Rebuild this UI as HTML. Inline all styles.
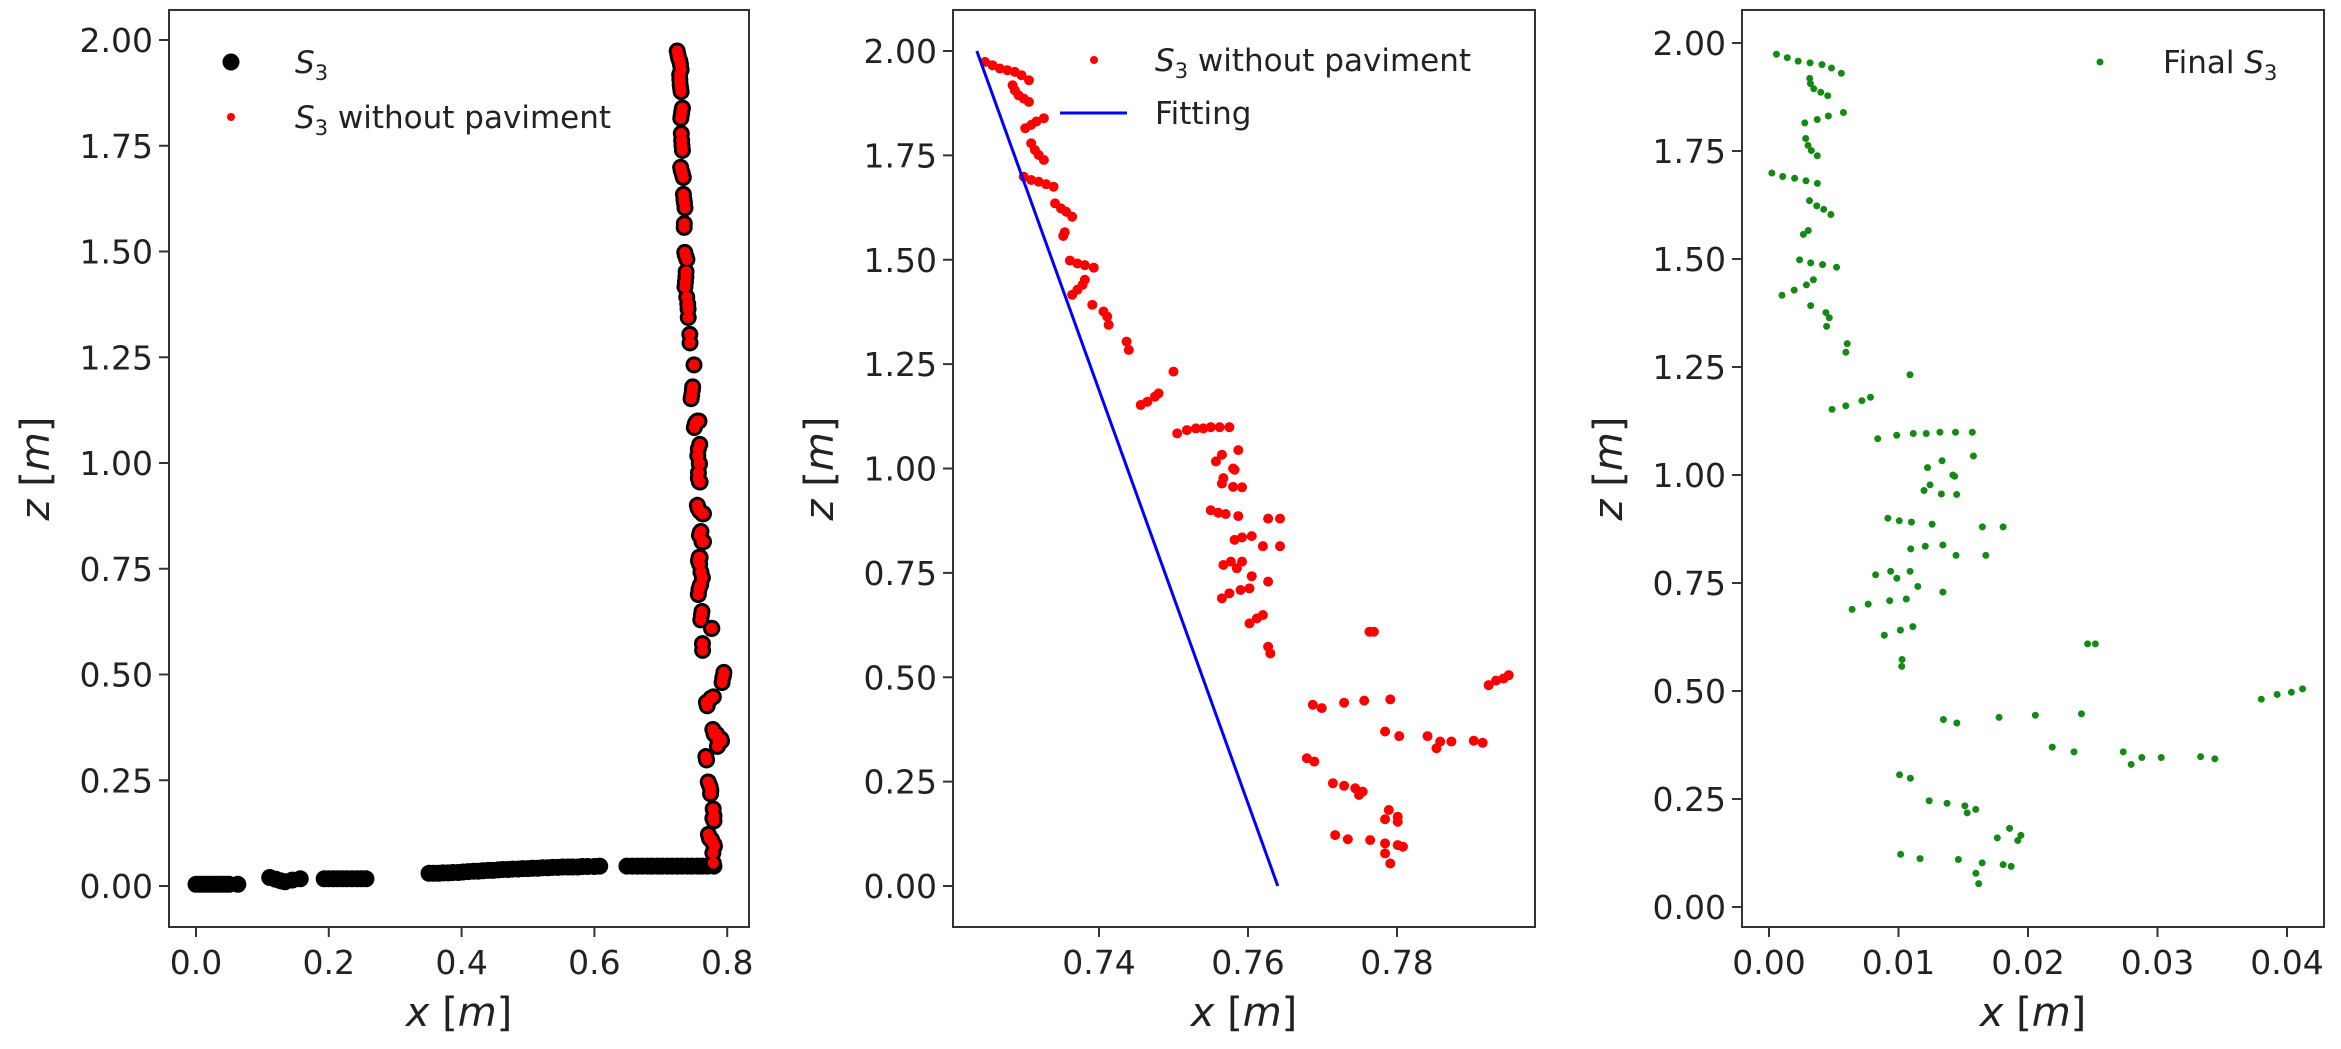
<!DOCTYPE html>
<html><head><meta charset="utf-8"><style>
body{margin:0;background:#fff}
svg{display:block;font-family:"DejaVu Sans","Liberation Sans",sans-serif}
</style></head><body>
<svg id="fig" width="2341" height="1049" viewBox="0 0 2341 1049" xmlns="http://www.w3.org/2000/svg">
<rect width="2341" height="1049" fill="#fff"/>
<g id="p1"></g>
<g id="p2"></g>
<g id="p3"></g>
</svg>
<script>
// pavement (black only) points: x, z
const paveX=[0.0,0.005,0.01,0.015,0.02,0.025,0.03,0.035,0.04,0.045,0.05,0.063,0.111,0.12,0.128,0.134,0.145,0.157,0.193,0.2,0.207,0.214,0.221,0.228,0.235,0.242,0.249,0.256,0.351,0.358,0.365,0.372,0.38,0.387,0.395,0.402,0.41,0.418,0.425,0.432,0.44,0.447,0.455,0.462,0.47,0.477,0.485,0.492,0.5,0.507,0.515,0.522,0.53,0.537,0.545,0.552,0.56,0.567,0.575,0.582,0.59,0.6,0.608,0.649,0.657,0.665,0.672,0.68,0.687,0.695,0.702,0.71,0.717,0.725,0.732,0.74,0.747,0.755,0.762,0.77,0.78];
const paveZ=[0.004,0.004,0.004,0.004,0.004,0.004,0.004,0.004,0.004,0.004,0.004,0.004,0.02,0.016,0.012,0.01,0.014,0.017,0.017,0.017,0.017,0.017,0.017,0.017,0.017,0.017,0.017,0.017,0.03,0.03,0.03,0.031,0.031,0.032,0.032,0.033,0.034,0.035,0.035,0.036,0.037,0.037,0.038,0.039,0.039,0.04,0.04,0.041,0.041,0.042,0.042,0.043,0.043,0.044,0.044,0.045,0.045,0.045,0.045,0.046,0.046,0.046,0.047,0.047,0.047,0.047,0.047,0.047,0.047,0.047,0.047,0.047,0.047,0.047,0.047,0.047,0.047,0.047,0.047,0.047,0.047];
// S3 without pavement points
const redX=[0.7247,0.7257,0.7267,0.7277,0.7287,0.7296,0.7306,0.7284,0.7287,0.7292,0.7299,0.7306,0.7301,0.7309,0.7316,0.7326,0.7309,0.7314,0.7319,0.7326,0.7299,0.7309,0.7319,0.7329,0.7339,0.7341,0.7349,0.7356,0.7364,0.7352,0.7354,0.7361,0.7371,0.7381,0.7393,0.7364,0.7371,0.7378,0.7381,0.7391,0.7406,0.7411,0.7413,0.7437,0.7440,0.7500,0.7456,0.7465,0.7475,0.7480,0.7505,0.7518,0.7530,0.7540,0.7550,0.7562,0.7575,0.7557,0.7565,0.7587,0.7582,0.7567,0.7580,0.7565,0.7580,0.7592,0.7550,0.7560,0.7570,0.7587,0.7627,0.7643,0.7582,0.7592,0.7605,0.7620,0.7643,0.7567,0.7577,0.7585,0.7592,0.7605,0.7627,0.7565,0.7575,0.7590,0.7602,0.7602,0.7612,0.7620,0.7627,0.7630,0.7763,0.7769,0.7923,0.7933,0.7943,0.7950,0.7687,0.7699,0.7729,0.7756,0.7791,0.7784,0.7803,0.7841,0.7853,0.7858,0.7873,0.7903,0.7915,0.7679,0.7689,0.7714,0.7729,0.7744,0.7754,0.7749,0.7789,0.7801,0.7784,0.7801,0.7717,0.7734,0.7764,0.7784,0.7801,0.7808,0.7784,0.7791];
const redZ=[1.974,1.966,1.958,1.954,1.950,1.942,1.930,1.918,1.906,1.894,1.886,1.878,1.815,1.823,1.831,1.839,1.779,1.763,1.751,1.739,1.699,1.691,1.687,1.681,1.675,1.635,1.623,1.615,1.603,1.557,1.566,1.498,1.491,1.487,1.481,1.416,1.428,1.440,1.452,1.392,1.376,1.364,1.344,1.304,1.284,1.232,1.152,1.160,1.172,1.180,1.084,1.092,1.096,1.096,1.099,1.099,1.099,1.017,1.033,1.044,0.997,0.977,1.000,0.964,0.956,0.955,0.900,0.894,0.891,0.886,0.880,0.880,0.829,0.835,0.838,0.814,0.814,0.769,0.777,0.761,0.777,0.742,0.729,0.689,0.701,0.709,0.713,0.629,0.641,0.649,0.573,0.557,0.609,0.609,0.481,0.492,0.497,0.505,0.434,0.426,0.439,0.444,0.447,0.370,0.359,0.359,0.330,0.346,0.346,0.348,0.343,0.306,0.298,0.246,0.240,0.234,0.226,0.218,0.182,0.166,0.160,0.154,0.122,0.112,0.110,0.102,0.098,0.094,0.078,0.054];
// fitting line endpoints (z, x)
const fitZ=[2.0,0.0];
const fitX=[0.7236,0.764];
const yTicks=[0,0.25,0.5,0.75,1.0,1.25,1.5,1.75,2.0];
const yTickLabels=["0.00","0.25","0.50","0.75","1.00","1.25","1.50","1.75","2.00"];
const x1Ticks=[0,0.2,0.4,0.6,0.8];
const x1Labels=["0.0","0.2","0.4","0.6","0.8"];
const x2Ticks=[0.74,0.76,0.78];
const x2Labels=["0.74","0.76","0.78"];
const x3Ticks=[0,0.01,0.02,0.03,0.04];
const x3Labels=["0.00","0.01","0.02","0.03","0.04"];

const NS="http://www.w3.org/2000/svg";
function mk(parent,tag,attrs,text){const e=document.createElementNS(NS,tag);for(const k in attrs)e.setAttribute(k,attrs[k]);if(text!==undefined)e.textContent=text;parent.appendChild(e);return e;}
function fitAt(z){return fitX[1]+(fitX[0]-fitX[1])*(z-fitZ[1])/(fitZ[0]-fitZ[1]);}

function axes(g,box,sx,sy,xt,xl,yt,yl){
  const clip=mk(g,'rect',{x:box.l,y:box.t,width:box.r-box.l,height:box.b-box.t,fill:'none',stroke:'#333','stroke-width':2});
  
  
  xt.forEach((v,i)=>{const x=sx(v);
    mk(g,'line',{x1:x,x2:x,y1:box.b,y2:box.b+10,stroke:'#333','stroke-width':2});
    const t=mk(g,'text',{x:x,y:box.b+47,'font-size':33,'text-anchor':'middle',fill:'#222'},xl[i]);
    
    });
  yt.forEach((v,i)=>{const y=sy(v);
    mk(g,'line',{x1:box.l-10,x2:box.l,y1:y,y2:y,stroke:'#333','stroke-width':2});
    const t=mk(g,'text',{x:box.l-16,y:y+12,'font-size':33,'text-anchor':'end',fill:'#222'},yl[i]);
    
    });
  const cx=(box.l+box.r)/2;
  const xa=mk(g,'text',{x:cx,y:1026,'font-size':40,'text-anchor':'middle',fill:'#222'});
  xa.innerHTML='<tspan font-style="italic">x</tspan> [<tspan font-style="italic">m</tspan>]';
  
  
  const cy=(box.t+box.b)/2, lx=box.l-120;
  const ya=mk(g,'text',{x:lx,y:cy,'font-size':40,'text-anchor':'middle',fill:'#222',transform:`rotate(-90 ${lx} ${cy})`});
  ya.innerHTML='<tspan font-style="italic">z</tspan> [<tspan font-style="italic">m</tspan>]';
  
  
}
function legendText(g,x,y,html,name){const t=mk(g,'text',{x:x,y:y+11,'font-size':31,fill:'#222'});t.innerHTML=html;
  
  }
const S3='<tspan font-style="italic">S</tspan><tspan font-size="21" dy="7">3</tspan>';

// Panel 1
(function(){const g=document.getElementById('p1');
  const box={l:169,r:749,t:10,b:927};
  const sx=v=>196+v*664, sy=v=>886-v*423;
  axes(g,box,sx,sy,x1Ticks,x1Labels,yTicks,yTickLabels);
  const all=paveX.map((x,i)=>[x,paveZ[i]]).concat(redX.map((x,i)=>[x,redZ[i]]));
  all.forEach(p=>{const c=mk(g,'circle',{cx:sx(p[0]),cy:sy(p[1]),r:8.5,fill:'#000'});
    
    });
  redX.forEach((x,i)=>{const c=mk(g,'circle',{cx:sx(x),cy:sy(redZ[i]),r:5.5,fill:'#f00'});
    
    });
  mk(g,'circle',{cx:231,cy:62,r:8.5,fill:'#000'});
  legendText(g,295,62,S3,'legend-entry-s3');
  mk(g,'circle',{cx:231,cy:117,r:4,fill:'#f00'});
  legendText(g,295,117,S3+'<tspan dy="-7"> without paviment</tspan>','legend-entry-s3-without-paviment');
})();

// Panel 2
(function(){const g=document.getElementById('p2');
  const box={l:953,r:1535,t:10,b:927};
  const sx=v=>1099+(v-0.74)*7450, sy=v=>886-v*417.5;
  axes(g,box,sx,sy,x2Ticks,x2Labels,yTicks,yTickLabels);
  redX.forEach((x,i)=>{const c=mk(g,'circle',{cx:sx(x),cy:sy(redZ[i]),r:5,fill:'#f00'});
    
    });
  const l=mk(g,'line',{x1:sx(fitX[0]),y1:sy(fitZ[0]),x2:sx(fitX[1]),y2:sy(fitZ[1]),stroke:'#0000ff','stroke-width':3});
  
  
  mk(g,'circle',{cx:1094,cy:60,r:4,fill:'#f00'});
  legendText(g,1155,60,S3+'<tspan dy="-7"> without paviment</tspan>','legend-entry-s3-without-paviment');
  mk(g,'line',{x1:1060,x2:1127,y1:113,y2:113,stroke:'#0000ff','stroke-width':3});
  legendText(g,1155,113,'Fitting','legend-entry-fitting');
})();

// Panel 3
(function(){const g=document.getElementById('p3');
  const box={l:1742,r:2324,t:10,b:927};
  const sx=v=>1769+v*12950, sy=v=>907-v*432;
  axes(g,box,sx,sy,x3Ticks,x3Labels,yTicks,yTickLabels);
  redX.forEach((x,i)=>{const z=redZ[i];const c=mk(g,'circle',{cx:sx(x-fitAt(z)),cy:sy(z),r:3.5,fill:'#138a13'});
    
    });
  mk(g,'circle',{cx:2100,cy:62,r:3.5,fill:'#138a13'});
  legendText(g,2163,62,'Final '+S3,'legend-entry-final-s3');
})();
</script>
</body></html>
